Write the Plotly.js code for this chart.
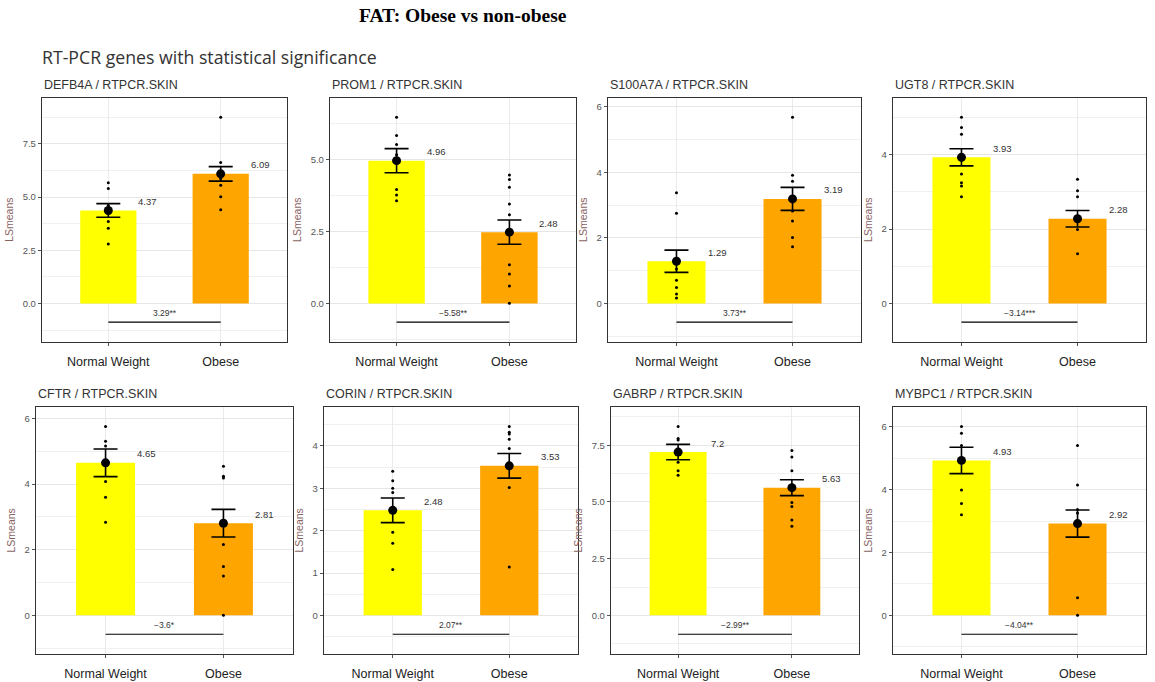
<!DOCTYPE html>
<html><head><meta charset="utf-8">
<script src="https://cdn.plot.ly/plotly-3.0.1.min.js"></script>
<style>html,body{margin:0;padding:0;background:#fff}#chart{width:1155px;height:682px}</style>
</head><body><div id="chart"></div>
<script>
const categories = ["Normal Weight", "Obese"];
const genes = ["DEFB4A", "PROM1", "S100A7A", "UGT8", "CFTR", "CORIN", "GABRP", "MYBPC1"];
const meanNormal = [4.37, 4.96, 1.29, 3.93, 4.65, 2.48, 7.2, 4.93];
const meanObese = [6.09, 2.48, 3.19, 2.28, 2.81, 3.53, 5.63, 2.92];
const seNormal = [0.32, 0.42, 0.34, 0.23, 0.42, 0.29, 0.34, 0.42];
const seObese = [0.34, 0.42, 0.35, 0.22, 0.42, 0.29, 0.35, 0.43];
const diffLabels = ["3.29**", "\u22125.58**", "3.73**", "\u22123.14***", "\u22123.6*", "2.07**", "\u22122.99**", "\u22124.04**"];
const ptsNormal = [
  [5.67, 5.40, 4.60, 4.35, 3.85, 3.54, 2.80],
  [6.47, 5.83, 5.52, 5.17, 4.90, 3.96, 3.77, 3.57],
  [3.38, 2.75, 1.35, 1.05, 0.71, 0.49, 0.29, 0.17],
  [5.01, 4.73, 4.55, 3.86, 3.48, 3.25, 3.16, 2.87],
  [5.76, 5.31, 5.16, 4.66, 4.08, 3.60, 2.84],
  [3.40, 3.18, 3.00, 2.90, 2.50, 1.96, 1.70, 1.08],
  [8.33, 7.80, 7.73, 7.27, 6.75, 6.38, 6.18],
  [6.01, 5.79, 5.40, 4.91, 3.99, 3.56, 3.20]
];
const ptsObese = [
  [8.75, 6.62, 6.03, 5.87, 5.56, 5.02, 4.41],
  [4.46, 4.31, 4.04, 3.46, 3.08, 1.35, 1.03, 0.61, 0.01],
  [5.68, 3.91, 3.73, 3.10, 2.82, 2.52, 2.01, 1.73],
  [3.34, 3.03, 2.87, 2.25, 1.99, 1.34],
  [4.55, 4.24, 4.19, 2.80, 2.16, 1.49, 1.20, 0.00],
  [4.46, 4.32, 4.28, 4.16, 3.94, 3.50, 3.02, 1.14],
  [7.27, 6.98, 6.38, 5.63, 4.98, 4.80, 4.20, 3.93],
  [5.40, 4.15, 3.37, 3.26, 2.90, 0.56, 0.00]
];
const yDtick = [2.5, 2.5, 2, 2, 2, 1, 2.5, 2];

const W = 1155, H = 682;
// panel boxes in pixels: [left, right, top, bottom]
const boxes = [
  [42, 287, 97.7, 341.7], [330, 576, 97.7, 341.7], [608, 861, 97.7, 341.7], [893, 1146, 97.7, 341.7],
  [36, 293, 406.7, 654], [324, 578, 406.7, 654], [611, 859, 406.7, 654], [893, 1146, 406.7, 654]
];
const barColors = ["#FFFF00", "#FFA500"];
const FONT = "Liberation Sans, Arial, sans-serif";

const data = [];
const layout = {
  width: W, height: H,
  margin: {l: 0, r: 0, t: 0, b: 0},
  paper_bgcolor: "#fff", plot_bgcolor: "#fff",
  showlegend: false,
  font: {family: FONT},
  shapes: [], annotations: []
};

genes.forEach((g, i) => {
  const k = i === 0 ? "" : String(i + 1);
  const xa = "x" + k, ya = "y" + k;
  const b = boxes[i];
  const allPts = ptsNormal[i].concat(ptsObese[i]);
  const hi = Math.max(...allPts);
  const lineY = -0.1 * hi;
  const span = hi - lineY;
  const pad = 0.095 * span;

  data.push({
    type: "bar", x: categories, y: [meanNormal[i], meanObese[i]],
    marker: {color: barColors}, width: 0.5, xaxis: xa, yaxis: ya, hoverinfo: "skip"
  });
  const px = [], py = [];
  ptsNormal[i].forEach(v => { px.push(categories[0]); py.push(v); });
  ptsObese[i].forEach(v => { px.push(categories[1]); py.push(v); });
  data.push({
    type: "scatter", mode: "markers", x: px, y: py,
    marker: {color: "#000", size: 3}, xaxis: xa, yaxis: ya, hoverinfo: "skip"
  });
  data.push({
    type: "scatter", mode: "markers", x: categories, y: [meanNormal[i], meanObese[i]],
    marker: {color: "#000", size: 9},
    error_y: {type: "data", array: [seNormal[i], seObese[i]], color: "#000", thickness: 1.6, width: 12},
    xaxis: xa, yaxis: ya, hoverinfo: "skip"
  });

  const dt = yDtick[i];
  layout["xaxis" + k] = {
    domain: [b[0] / W, b[1] / W], anchor: ya, type: "category",
    range: [-0.59, 1.59], showgrid: true, gridcolor: "#ebebeb", gridwidth: 1,
    showline: true, mirror: true, linecolor: "#333", linewidth: 1.2,
    ticks: "outside", ticklen: 3, tickcolor: "#555", ticklabelstandoff: 5,
    tickfont: {size: 12.5, color: "#222", family: FONT}, zeroline: false, fixedrange: true
  };
  layout["yaxis" + k] = {
    domain: [(H - b[3]) / H, (H - b[2]) / H], anchor: xa,
    range: [lineY - pad, hi + pad], tick0: 0, dtick: dt,
    tickformat: dt === 2.5 ? ".1f" : "d",
    showgrid: true, gridcolor: "#e6e6e6", gridwidth: 1,
    minor: {dtick: dt / 2, showgrid: true, gridcolor: "#f0f0f0", gridwidth: 1},
    showline: true, mirror: true, linecolor: "#333", linewidth: 1.2,
    ticks: "outside", ticklen: 3, tickcolor: "#555",
    tickfont: {size: 9.5, color: "#555", family: FONT},
    title: {text: "LSmeans", font: {size: 10.5, color: "#8a6464", family: FONT}, standoff: 7},
    zeroline: false, fixedrange: true
  };

  layout.shapes.push({
    type: "line", xref: xa, yref: ya, x0: 0, x1: 1, y0: lineY, y1: lineY,
    line: {color: "#000", width: 1.2}
  });
  layout.annotations.push({
    xref: xa, yref: ya, x: 0.5, y: lineY, text: diffLabels[i], showarrow: false,
    yanchor: "bottom", yshift: 2, font: {size: 8.5, color: "#333", family: FONT}
  });
  [meanNormal[i], meanObese[i]].forEach((m, j) => {
    layout.annotations.push({
      xref: xa, yref: ya, x: j + 0.35, y: m, text: String(m), showarrow: false,
      yshift: 9, font: {size: 9.5, color: "#333", family: FONT}
    });
  });
  layout.annotations.push({
    xref: "paper", yref: "paper", x: b[0] / W, y: (H - b[2] + 4) / H,
    xanchor: "left", yanchor: "bottom", showarrow: false,
    text: g + " / RTPCR.SKIN", font: {size: 12.5, color: "#333", family: FONT}
  });
});

layout.annotations.push({
  xref: "paper", yref: "paper", x: 463 / W, y: 1 - 16 / H, xanchor: "center", yanchor: "middle",
  showarrow: false, text: "<b>FAT: Obese vs non-obese</b>",
  font: {size: 19.5, color: "#000", family: "Liberation Serif, Times New Roman, serif"}
});
layout.annotations.push({
  xref: "paper", yref: "paper", x: 40 / W, y: 1 - 57 / H, xanchor: "left", yanchor: "middle",
  showarrow: false, text: "RT-PCR genes with statistical significance",
  font: {size: 17.7, color: "#333", family: "Open Sans, sans-serif"}
});

Plotly.newPlot("chart", data, layout, {displayModeBar: false, staticPlot: true});
</script>
</body></html>
